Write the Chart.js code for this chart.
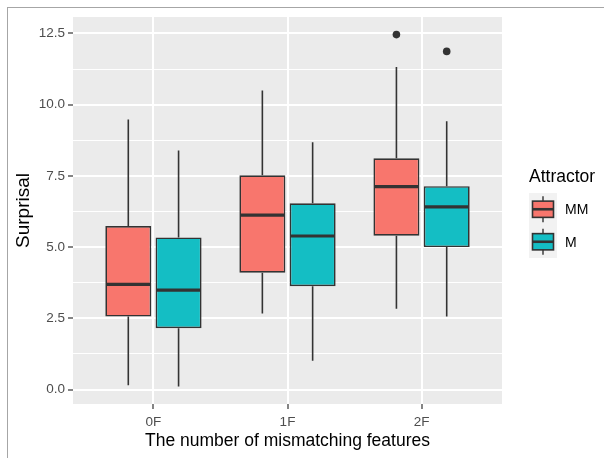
<!DOCTYPE html>
<html>
<head>
<meta charset="utf-8">
<script src="https://cdn.jsdelivr.net/npm/chart.js@4/dist/chart.umd.min.js"></script>
<style>
  html, body { margin: 0; padding: 0; background: #ffffff; }
  #wrap { position: relative; width: 604px; height: 458px; overflow: hidden; }
  #frame { position: absolute; left: 7px; top: 7px; right: -2px; bottom: -2px;
           border-left: 1px solid #a6a6a6; border-top: 1px solid #a6a6a6; }
  #chart { position: absolute; left: 0; top: 0; }
</style>
</head>
<body>
<div id="wrap">
  <div id="frame"></div>
  <canvas id="chart" width="604" height="458"></canvas>
</div>
<script>
// Groups on the x axis and the two attractor conditions
const groups = ['0F', '1F', '2F'];
const seriesNames = ['MM', 'M'];

// Box summaries per group: lower whisker, Q1, median, Q3, upper whisker, outliers
const mmLow  = [0.15, 2.67, 2.84];
const mmQ1   = [2.56, 4.10, 5.40];
const mmMed  = [3.69, 6.12, 7.12];
const mmQ3   = [5.74, 7.52, 8.12];
const mmHigh = [9.48, 10.50, 11.32];
const mmOut  = [[], [], [12.46]];

const mLow  = [0.11, 1.01, 2.56];
const mQ1   = [2.15, 3.63, 5.00];
const mMed  = [3.49, 5.39, 6.41];
const mQ3   = [5.34, 6.54, 7.14];
const mHigh = [8.39, 8.68, 9.42];
const mOut  = [[], [], [11.87]];

// Axis breaks
const yMajorTicks = [0, 2.5, 5, 7.5, 10, 12.5];
const yMinorTicks = [1.25, 3.75, 6.25, 8.75, 11.25];

// Styling
const FILLS = ['#F8766D', '#14BEC4'];
const INK = '#333333';
const PANEL = '#EBEBEB';
const FONT = "'Liberation Sans', Arial, sans-serif";

const stats = [
  { low: mmLow, q1: mmQ1, med: mmMed, q3: mmQ3, high: mmHigh, out: mmOut },
  { low: mLow,  q1: mQ1,  med: mMed,  q3: mQ3,  high: mHigh,  out: mOut }
];

// y range: data extent padded by 5% on each side
const allVals = stats.flatMap(s => [...s.low, ...s.high, ...s.out.flat()]);
const dMin = Math.min(...allVals), dMax = Math.max(...allVals);
const pad = (dMax - dMin) * 0.05;

const datasets = stats.map((s, k) => ({
  label: seriesNames[k],
  data: groups.map((g, i) => ({ x: i + 1, y: [s.q1[i], s.q3[i]] })),
  backgroundColor: FILLS[k],
  borderColor: INK,
  borderWidth: 1.7,
  borderSkipped: false,
  categoryPercentage: 0.75,
  barPercentage: 0.915
}));

const boxExtras = {
  id: 'boxExtras',
  beforeDraw(chart) {
    const { ctx, chartArea: a } = chart;
    ctx.save();
    ctx.fillStyle = PANEL;
    ctx.fillRect(a.left, a.top, a.right - a.left, a.bottom - a.top);
    ctx.restore();
  },
  beforeDatasetsDraw(chart) {
    const { ctx } = chart;
    const ys = chart.scales.y;
    ctx.save();
    ctx.strokeStyle = INK;
    ctx.lineWidth = 1.6;
    stats.forEach((s, k) => {
      chart.getDatasetMeta(k).data.forEach((el, i) => {
        const x = el.x;
        ctx.beginPath();
        ctx.moveTo(x, ys.getPixelForValue(s.high[i]));
        ctx.lineTo(x, ys.getPixelForValue(s.q3[i]));
        ctx.moveTo(x, ys.getPixelForValue(s.q1[i]));
        ctx.lineTo(x, ys.getPixelForValue(s.low[i]));
        ctx.stroke();
      });
    });
    ctx.restore();
  },
  afterDatasetsDraw(chart) {
    const { ctx } = chart;
    const ys = chart.scales.y;
    ctx.save();
    stats.forEach((s, k) => {
      chart.getDatasetMeta(k).data.forEach((el, i) => {
        const x = el.x, w = el.width;
        // median bar
        ctx.strokeStyle = INK;
        ctx.lineWidth = 3.2;
        ctx.beginPath();
        const ym = ys.getPixelForValue(s.med[i]);
        ctx.moveTo(x - w / 2 + 0.8, ym);
        ctx.lineTo(x + w / 2 - 0.8, ym);
        ctx.stroke();
        // outlying points
        ctx.fillStyle = INK;
        s.out[i].forEach(v => {
          ctx.beginPath();
          ctx.arc(x, ys.getPixelForValue(v), 3.8, 0, Math.PI * 2);
          ctx.fill();
        });
      });
    });
    ctx.restore();
  },
  afterDraw(chart) {
    // legend: title plus one boxplot key per series
    const { ctx } = chart;
    const left = 529, keyW = 28, keyH = 32.5, keyTop = 193;
    ctx.save();
    ctx.fillStyle = '#000000';
    ctx.font = `17.5px ${FONT}`;
    ctx.textBaseline = 'middle';
    ctx.textAlign = 'left';
    ctx.fillText('Attractor', left, 177);
    ctx.fillStyle = '#F2F2F2';
    ctx.fillRect(left, keyTop, keyW, keyH * seriesNames.length);
    seriesNames.forEach((name, k) => {
      const t = keyTop + k * keyH;
      const cx = left + keyW / 2;
      ctx.strokeStyle = INK;
      ctx.lineWidth = 1.4;
      ctx.beginPath();
      ctx.moveTo(cx, t + keyH * 0.1);
      ctx.lineTo(cx, t + keyH * 0.9);
      ctx.stroke();
      const bx = left + keyW * 0.125, bw = keyW * 0.75;
      const by = t + keyH * 0.25, bh = keyH * 0.5;
      ctx.fillStyle = FILLS[k];
      ctx.fillRect(bx, by, bw, bh);
      ctx.lineWidth = 1.6;
      ctx.strokeRect(bx, by, bw, bh);
      ctx.lineWidth = 2.6;
      ctx.beginPath();
      ctx.moveTo(bx, t + keyH / 2);
      ctx.lineTo(bx + bw, t + keyH / 2);
      ctx.stroke();
      ctx.fillStyle = '#000000';
      ctx.font = `14px ${FONT}`;
      ctx.fillText(name, 565, t + keyH / 2 + 1);
    });
    ctx.restore();
  }
};

const isMajor = v => yMajorTicks.some(t => Math.abs(t - v) < 1e-9);

new Chart(document.getElementById('chart'), {
  type: 'bar',
  data: { datasets },
  plugins: [boxExtras],
  options: {
    responsive: false,
    animation: false,
    devicePixelRatio: 1,
    layout: { padding: { left: 0, right: 102, top: 17, bottom: 0 } },
    plugins: { legend: { display: false }, tooltip: { enabled: false }, title: { display: false } },
    scales: {
      x: {
        type: 'linear',
        offset: false,
        min: 0.4,
        max: groups.length + 0.6,
        afterBuildTicks(scale) { scale.ticks = groups.map((g, i) => ({ value: i + 1 })); },
        afterFit(scale) { scale.height = 54; },
        grid: { offset: false, color: '#ffffff', lineWidth: 2, tickColor: INK, tickWidth: 1.2, tickLength: 5 },
        border: { display: false },
        ticks: {
          padding: 5,
          color: '#4D4D4D',
          font: { family: FONT, size: 13.5 },
          callback: v => groups[Math.round(v) - 1]
        },
        title: {
          display: true,
          text: 'The number of mismatching features',
          color: '#000000',
          font: { family: FONT, size: 17.5, lineHeight: 1.2 },
          padding: { top: 0, bottom: 6 }
        }
      },
      y: {
        type: 'linear',
        min: dMin - pad,
        max: dMax + pad,
        afterBuildTicks(scale) {
          scale.ticks = [...yMajorTicks, ...yMinorTicks].sort((a, b) => a - b).map(v => ({ value: v }));
        },
        afterFit(scale) { scale.width = 73; },
        grid: {
          color: '#ffffff',
          lineWidth: ctx => (ctx.tick && isMajor(ctx.tick.value)) ? 2 : 1,
          tickColor: ctx => (ctx.tick && isMajor(ctx.tick.value)) ? INK : 'rgba(0,0,0,0)',
          tickWidth: 1.2,
          tickLength: 5
        },
        border: { display: false },
        ticks: {
          padding: 3,
          color: '#4D4D4D',
          font: { family: FONT, size: 13.5 },
          autoSkip: false,
          callback: v => isMajor(v) ? v.toFixed(1) : ''
        },
        title: {
          display: true,
          text: 'Surprisal',
          color: '#000000',
          font: { family: FONT, size: 19, lineHeight: 1.2 },
          padding: { top: 12, bottom: 0 }
        }
      }
    }
  }
});
</script>
</body>
</html>
